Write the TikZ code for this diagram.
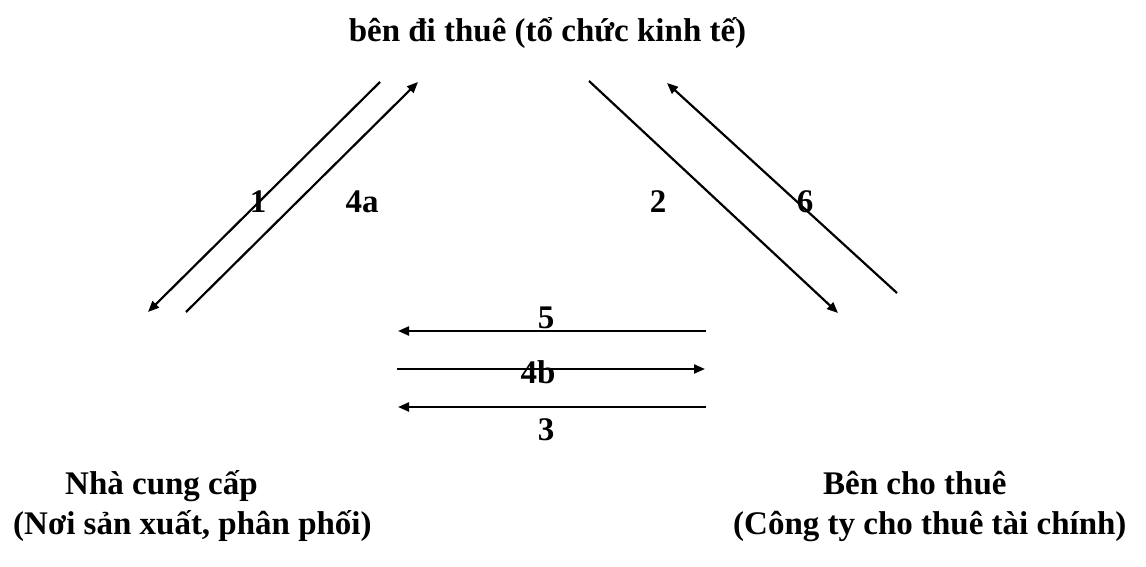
\documentclass[tikz,border=0pt]{standalone}
\usepackage{fontspec}
\setmainfont{Liberation Serif}
\usetikzlibrary{arrows.meta}
\begin{document}
\begin{tikzpicture}[x=1pt,y=-1pt,
  lbl/.style={font=\fontsize{33}{38}\selectfont\bfseries, inner sep=0pt, anchor=base},
  txt/.style={font=\fontsize{33}{38}\selectfont\bfseries, inner sep=0pt, anchor=base west},
  arr/.style={line width=2.2pt, -{Triangle[length=11pt,width=9pt]}}]
\useasboundingbox (0,0) rectangle (1146,567);
% texts
\node[lbl] (title) at (547.5,42) {bên đi thuê (tổ chức kinh tế)};
\node[txt] (sup1) at (65,494) {Nhà cung cấp};
\node[txt] (sup2) at (13,534) {(Nơi sản xuất, phân phối)};
\node[txt] (les1) at (823,494) {Bên cho thuê};
\node[txt] (les2) at (733,534) {(Công ty cho thuê tài chính)};
% arrow end points
\coordinate (a1s) at (380,82);  \coordinate (a1e) at (148,312);
\coordinate (a4s) at (186,312); \coordinate (a4e) at (418,82);
\coordinate (a2s) at (589,81);  \coordinate (a2e) at (838,313);
\coordinate (a6s) at (897,293); \coordinate (a6e) at (667,83);
\coordinate (a5s) at (706,331); \coordinate (a5e) at (398,331);
\coordinate (b4s) at (397,369); \coordinate (b4e) at (705,369);
\coordinate (a3s) at (706,407); \coordinate (a3e) at (398,407);
% arrows
\draw[arr] (a1s) -- (a1e);
\draw[arr] (a4s) -- (a4e);
\draw[arr] (a2s) -- (a2e);
\draw[arr] (a6s) -- (a6e);
\draw[arr] (a5s) -- (a5e);
\draw[arr] (b4s) -- (b4e);
\draw[arr] (a3s) -- (a3e);
% labels
\node[lbl] (l1) at (258,212) {1};
\node[lbl] (l4a) at (362,212) {4a};
\node[lbl] (l2) at (658,212) {2};
\node[lbl] (l6) at (805,212) {6};
\node[lbl] (l5) at (546,328) {5};
\node[lbl] (l4b) at (538,383) {4b};
\node[lbl] (l3) at (546,440) {3};
\end{tikzpicture}
\end{document}
